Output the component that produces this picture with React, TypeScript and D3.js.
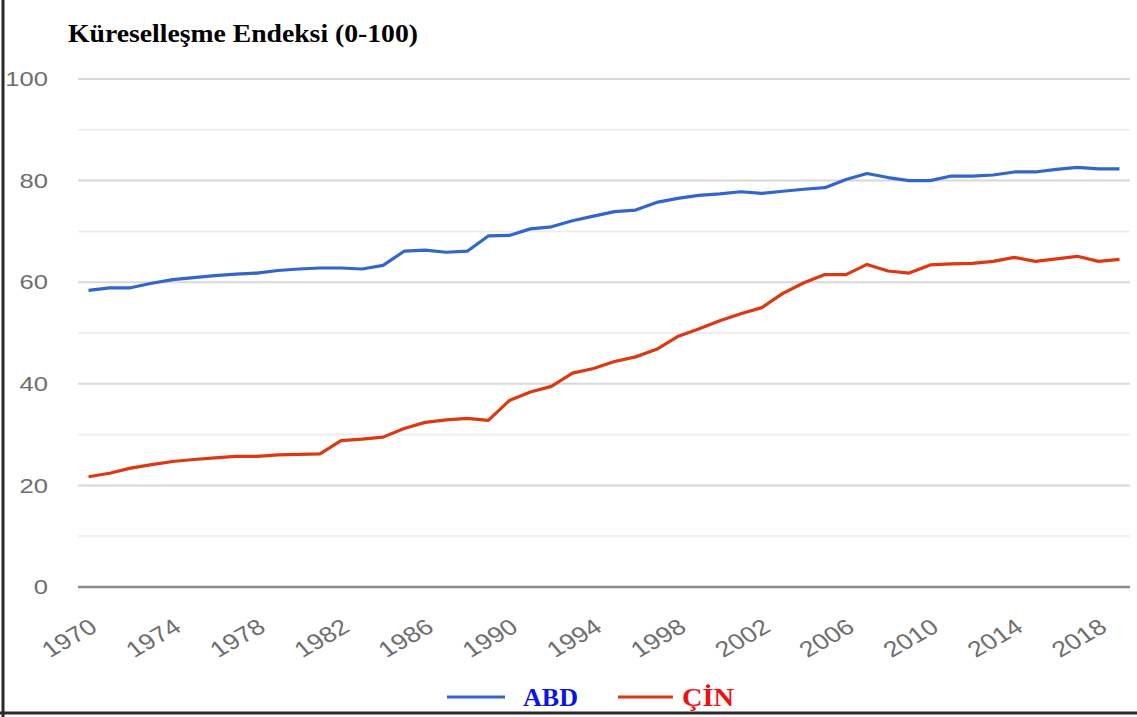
import React from "react";
import * as d3 from "d3";

const years: number[] = d3.range(1970, 2020);

const abd: number[] = [
  58.4, 58.9, 58.9, 59.8, 60.5, 60.9, 61.3, 61.6, 61.8, 62.3,
  62.6, 62.8, 62.8, 62.6, 63.3, 66.1, 66.3, 65.9, 66.1, 69.1,
  69.2, 70.5, 70.9, 72.1, 73.0, 73.9, 74.2, 75.7, 76.5, 77.1,
  77.4, 77.8, 77.5, 77.9, 78.3, 78.6, 80.2, 81.4, 80.6, 80.0,
  80.0, 80.9, 80.9, 81.1, 81.7, 81.7, 82.2, 82.6, 82.3, 82.3,
];

const cin: number[] = [
  21.7, 22.4, 23.4, 24.1, 24.7, 25.1, 25.4, 25.7, 25.7, 26.0,
  26.1, 26.2, 28.8, 29.1, 29.5, 31.2, 32.4, 32.9, 33.2, 32.8,
  36.7, 38.4, 39.5, 42.1, 43.0, 44.4, 45.3, 46.8, 49.3, 50.8,
  52.4, 53.8, 55.0, 57.8, 59.9, 61.5, 61.5, 63.5, 62.2, 61.8,
  63.4, 63.6, 63.7, 64.1, 64.9, 64.1, 64.6, 65.1, 64.1, 64.5,
];

const yMajorTicks: number[] = [0, 20, 40, 60, 80, 100];
const yMinorTicks: number[] = [10, 30, 50, 70, 90];
const xTickLabels: number[] = [1970, 1974, 1978, 1982, 1986, 1990, 1994, 1998, 2002, 2006, 2010, 2014, 2018];

const title = "Küreselleşme Endeksi (0-100)";
const seriesNames = ["ABD", "ÇİN"];

const W = 1137;
const H = 717;
const left = 78;
const right = 1130;
const top = 79;
const bottom = 587;

export default function App() {
  const x = d3.scalePoint<number>().domain(years).range([left, right]).padding(0.5);
  const y = d3.scaleLinear().domain([0, 100]).range([bottom, top]);

  const line = d3
    .line<number>()
    .x((_, i) => x(years[i]) as number)
    .y((d) => y(d));

  const labelFont = "'Liberation Sans', Arial, sans-serif";
  const serif = "'Liberation Serif', 'Times New Roman', serif";
  const sx = 1.22;

  return (
    <svg
      width={W}
      height={H}
      style={{ position: "absolute", left: 0, top: 0, background: "#fff" }}
    >
      <rect x={0} y={0} width={W} height={H} fill="#fff" />

      {yMinorTicks.map((t) => (
        <line key={"mi" + t} x1={left} x2={right} y1={y(t)} y2={y(t)} stroke="#eeeeee" strokeWidth={2} />
      ))}
      {yMajorTicks.filter((t) => t !== 0).map((t) => (
        <line key={"ma" + t} x1={left} x2={right} y1={y(t)} y2={y(t)} stroke="#d8d8d8" strokeWidth={2} />
      ))}
      <line x1={left} x2={right} y1={y(0)} y2={y(0)} stroke="#8a8a8a" strokeWidth={2.5} />

      {yMajorTicks.map((t) => (
        <text
          key={"yl" + t}
          transform={`translate(48,${y(t)}) scale(${sx},1)`}
          textAnchor="end"
          dominantBaseline="central"
          fontFamily={labelFont}
          fontSize={21}
          fill="#6e6e6e"
        >
          {t}
        </text>
      ))}

      {xTickLabels.map((t) => (
        <text
          key={"xl" + t}
          transform={`translate(${(x(t) as number) + 5},${624}) scale(${sx},1) rotate(-35)`}
          textAnchor="end"
          dominantBaseline="central"
          fontFamily={labelFont}
          fontSize={22}
          fill="#6e6e6e"
        >
          {t}
        </text>
      ))}

      <path d={line(abd) || ""} fill="none" stroke="#3366cc" strokeWidth={3.2} strokeLinejoin="round" />
      <path d={line(cin) || ""} fill="none" stroke="#dc3912" strokeWidth={3.2} strokeLinejoin="round" />

      <text
        x={68}
        y={42}
        fontFamily={serif}
        fontWeight="bold"
        fontSize={26}
        fill="#000"
        textLength={350}
        lengthAdjust="spacingAndGlyphs"
      >
        {title}
      </text>

      <line x1={447} x2={505} y1={697} y2={697} stroke="#3366cc" strokeWidth={3.2} />
      <text
        x={523}
        y={706}
        fontFamily={serif}
        fontWeight="bold"
        fontSize={25}
        fill="#0a14e6"
        textLength={55}
        lengthAdjust="spacingAndGlyphs"
      >
        {seriesNames[0]}
      </text>
      <line x1={618} x2={673} y1={697} y2={697} stroke="#dc3912" strokeWidth={3.2} />
      <text
        x={682}
        y={706}
        fontFamily={serif}
        fontWeight="bold"
        fontSize={25}
        fill="#f01010"
        textLength={52}
        lengthAdjust="spacingAndGlyphs"
      >
        {seriesNames[1]}
      </text>

      <line x1={3} x2={3} y1={0} y2={H} stroke="#2a2a2a" strokeWidth={3} />
      <line x1={0} x2={W} y1={713} y2={713} stroke="#2a2a2a" strokeWidth={3} />
    </svg>
  );
}
